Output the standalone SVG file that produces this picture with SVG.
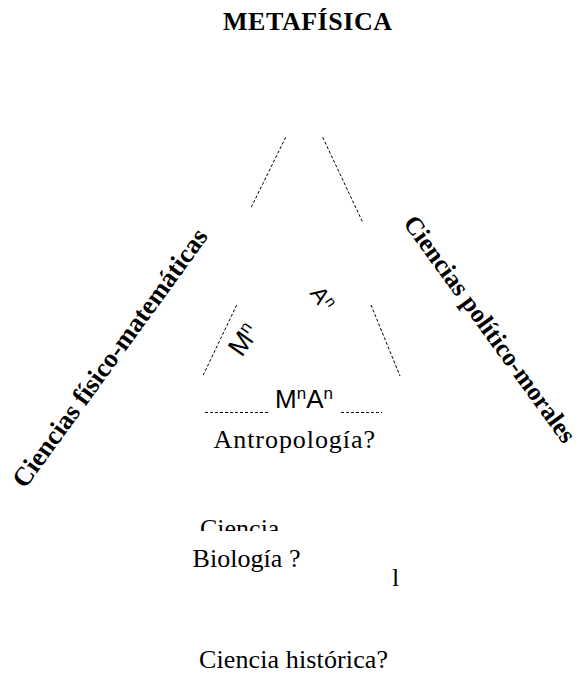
<svg xmlns="http://www.w3.org/2000/svg" width="581" height="677" viewBox="0 0 581 677">
<style>
.serif{font-family:"Liberation Serif","Times New Roman",serif;font-size:26px;fill:#000}
.bold{font-weight:bold}
.sans{font-family:"Liberation Sans",Arial,sans-serif;font-size:26px;fill:#000}
.dash{stroke:#000;stroke-width:1;stroke-dasharray:3 2;fill:none}
</style>
<defs>
<clipPath id="clipCiencia"><rect x="180" y="500" width="150" height="31"/></clipPath>
</defs>
<rect width="581" height="677" fill="#fff"/>
<g id="title"><text class="serif bold" x="223" y="30" textLength="169">METAFÍSICA</text></g>
<g id="connectors">
<line class="dash" x1="285.7" y1="137.3" x2="250.7" y2="208.3"/>
<line class="dash" x1="322.7" y1="137.3" x2="362.7" y2="222.3"/>
<line class="dash" x1="236.7" y1="305" x2="203.3" y2="375"/>
<line class="dash" x1="371" y1="305" x2="400" y2="376"/>
<line class="dash" x1="205" y1="412.5" x2="269" y2="412.5"/>
<line class="dash" x1="341" y1="412.5" x2="382" y2="412.5"/>
</g>
<g id="label-left"><text class="serif bold" style="font-size:26.5px" text-anchor="middle" transform="translate(117,363) rotate(-54)">Ciencias físico-matemáticas</text></g>
<g id="label-right"><text class="serif bold" style="font-size:25.5px" text-anchor="middle" transform="translate(483,334) rotate(54)">Ciencias político-morales</text></g>
<g id="Mn"><text class="sans" style="font-size:27px" text-anchor="middle" transform="translate(251,345) rotate(-55)">M<tspan style="font-size:17px" dy="-9">n</tspan></text></g>
<g id="An"><text class="sans" style="font-size:23px" text-anchor="middle" transform="translate(316,303) rotate(55)">A<tspan style="font-size:15px" dy="-8">n</tspan></text></g>
<g id="MnAn"><text class="sans" x="275" y="408">M<tspan style="font-size:17px" dy="-9">n</tspan><tspan dy="9">A</tspan><tspan style="font-size:17px" dy="-9">n</tspan></text></g>
<g id="antropologia"><text class="serif" x="213.5" y="448.3" textLength="161.5">Antropología?</text></g>
<g id="ciencia-clipped"><text class="serif" x="200" y="537.2" clip-path="url(#clipCiencia)">Ciencia</text></g>
<g id="biologia"><text class="serif" x="192.5" y="566.5" textLength="108">Biología ?</text></g>
<g id="l-mark"><text class="serif" x="392" y="586">l</text></g>
<g id="ciencia-historica"><text class="serif" x="199" y="667.5" textLength="189">Ciencia histórica?</text></g>
</svg>
